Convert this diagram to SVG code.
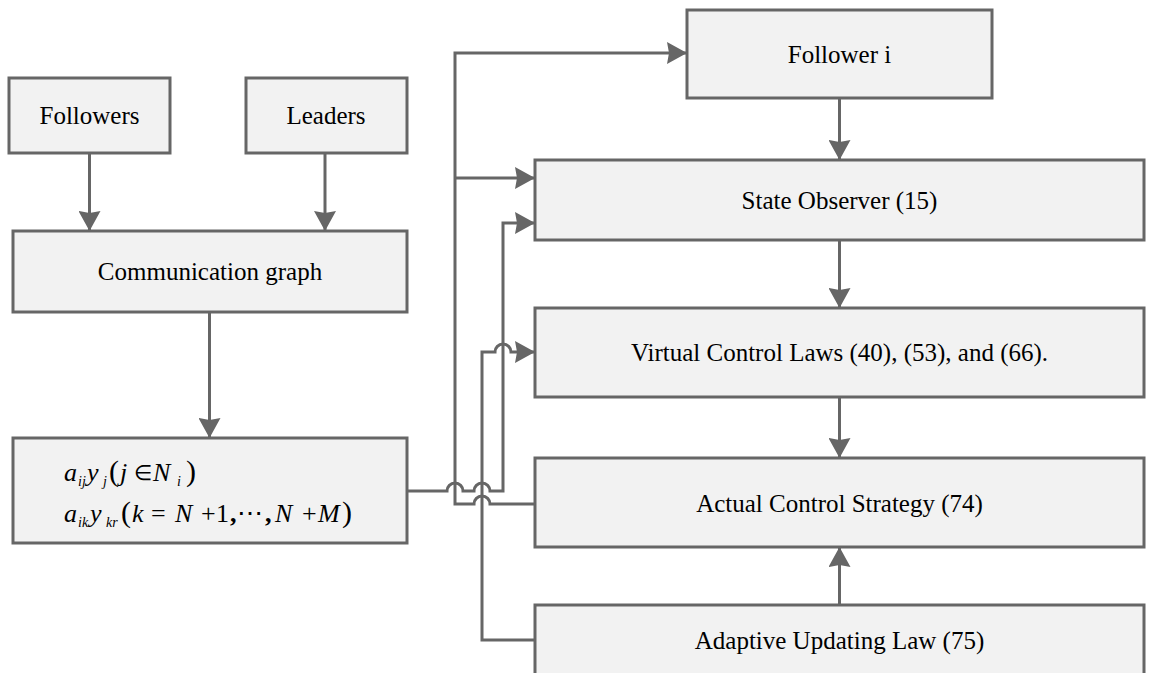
<svg xmlns="http://www.w3.org/2000/svg" width="1150" height="673" viewBox="0 0 1150 673">
<defs>
<marker id="arr" markerUnits="userSpaceOnUse" markerWidth="20" markerHeight="22" refX="20" refY="11" orient="auto" viewBox="0 0 20 22">
<path d="M0,0 L20,11 L0,22 L2,11 z" fill="#666"/>
</marker>
</defs>
<rect width="1150" height="673" fill="#fff"/>

<g fill="#f2f2f2" stroke="#666" stroke-width="3">
<g id="followers"><rect x="9" y="78" width="161" height="75"/><text fill="#000" stroke="none" font-family="Liberation Serif" font-size="25" text-anchor="middle" x="89.5" y="124">Followers</text></g>
<g id="leaders"><rect x="246" y="78" width="161" height="75"/><text fill="#000" stroke="none" font-family="Liberation Serif" font-size="25" text-anchor="middle" x="326" y="124">Leaders</text></g>
<g id="comm"><rect x="13" y="231" width="394" height="81"/><text fill="#000" stroke="none" font-family="Liberation Serif" font-size="25" text-anchor="middle" x="210" y="280">Communication graph</text></g>
<g id="formula"><rect x="13" y="438" width="394" height="105"/>
<text fill="#000" stroke="none" font-family="Liberation Serif" font-size="26">
<tspan font-style="italic" x="64" y="481">a</tspan><tspan font-style="italic" x="78" y="486" font-size="14">ij</tspan><tspan font-style="italic" x="87" y="481">y</tspan><tspan font-style="italic" x="103" y="486" font-size="14">j</tspan><tspan x="109" y="481" font-size="30">(</tspan><tspan font-style="italic" x="120" y="481">j</tspan><tspan x="134" y="480" font-size="21">∈</tspan><tspan font-style="italic" x="153" y="481">N</tspan><tspan font-style="italic" x="177" y="486" font-size="14">i</tspan><tspan x="186" y="481" font-size="30">)</tspan>
</text>
<text fill="#000" stroke="none" font-family="Liberation Serif" font-size="26">
<tspan font-style="italic" x="64" y="522">a</tspan><tspan font-style="italic" x="78" y="527" font-size="14">ik</tspan><tspan font-style="italic" x="90" y="522">y</tspan><tspan font-style="italic" x="106" y="527" font-size="14">kr</tspan><tspan x="121" y="522" font-size="30">(</tspan><tspan font-style="italic" x="132" y="522">k</tspan><tspan x="151" y="522">=</tspan><tspan font-style="italic" x="175" y="522">N</tspan><tspan x="201" y="522">+</tspan><tspan x="216" y="522">1</tspan><tspan x="230" y="522" font-weight="bold">,</tspan><tspan x="237" y="522">⋯</tspan><tspan x="265" y="522" font-weight="bold">,</tspan><tspan font-style="italic" x="275" y="522">N</tspan><tspan x="302" y="522">+</tspan><tspan font-style="italic" x="318" y="522">M</tspan><tspan x="342" y="522" font-size="30">)</tspan>
</text>
</g>
<g id="followeri"><rect x="687" y="10" width="305" height="88"/><text fill="#000" stroke="none" font-family="Liberation Serif" font-size="25" text-anchor="middle" x="839.5" y="63">Follower i</text></g>
<g id="observer"><rect x="535" y="160" width="609" height="80"/><text fill="#000" stroke="none" font-family="Liberation Serif" font-size="25" text-anchor="middle" x="839.5" y="209">State Observer (15)</text></g>
<g id="virtual"><rect x="535" y="308" width="609" height="89"/><text fill="#000" stroke="none" font-family="Liberation Serif" font-size="25" text-anchor="middle" x="839.5" y="361">Virtual Control Laws (40), (53), and (66).</text></g>
<g id="actual"><rect x="535" y="458" width="609" height="89"/><text fill="#000" stroke="none" font-family="Liberation Serif" font-size="25" text-anchor="middle" x="839.5" y="512">Actual Control Strategy (74)</text></g>
<g id="adaptive"><rect x="535" y="605" width="609" height="80"/><text fill="#000" stroke="none" font-family="Liberation Serif" font-size="25" text-anchor="middle" x="839.5" y="649">Adaptive Updating Law (75)</text></g>
</g>

<g id="connectors" fill="none" stroke="#666" stroke-width="3" marker-end="url(#arr)">
<path d="M89.5,153 V231"/>
<path d="M325,153 V231"/>
<path d="M209.5,312 V438"/>
<path d="M839.5,98 V160"/>
<path d="M839.5,240 V308"/>
<path d="M839.5,397 V458"/>
<path d="M839.5,605 V547"/>
<path d="M535,504 H490 A8,8 0 0 0 474,504 H455 V53 H687"/>
<path d="M455,178 H535"/>
<path d="M407,491 H447 A8,8 0 0 1 463,491 H474 A8,8 0 0 1 490,491 H503 V223 H535"/>
<path d="M535,640 H482 V352 H495 A8,8 0 0 1 511,352 H535"/>
</g>
</svg>
